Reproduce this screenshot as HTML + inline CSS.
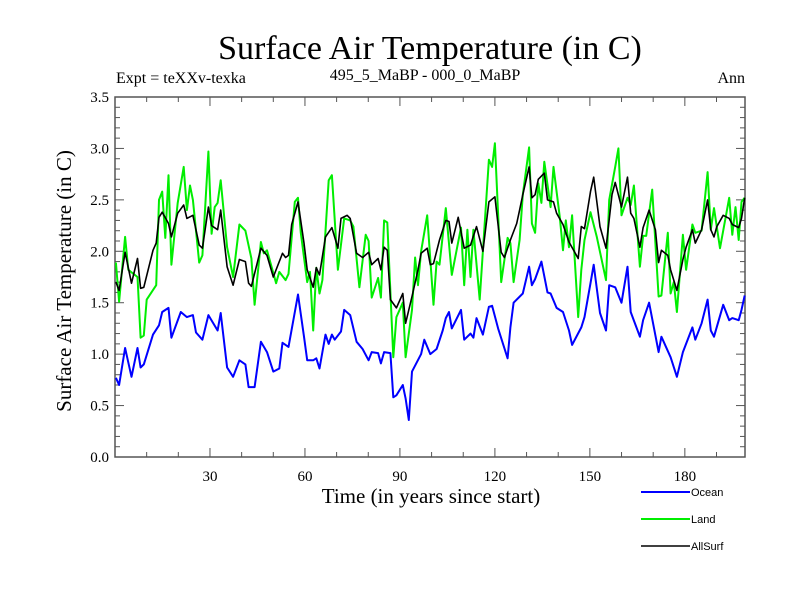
<!DOCTYPE html>
<html><head><meta charset="utf-8"><style>
html,body{margin:0;padding:0;background:#fff;}
svg{display:block;}
.serif{font-family:"Liberation Serif",serif;}
.sans{font-family:"Liberation Sans",sans-serif;}
</style></head><body>
<svg id="chart" width="800" height="600" viewBox="0 0 800 600" xmlns="http://www.w3.org/2000/svg">
<rect width="800" height="600" fill="#fff"/>
<text class="serif" x="430" y="59" font-size="34" text-anchor="middle">Surface Air Temperature (in C)</text>
<text class="serif" x="116" y="83" font-size="16">Expt = teXXv-texka</text>
<text class="serif" x="425" y="80" font-size="16" text-anchor="middle">495_5_MaBP - 000_0_MaBP</text>
<text class="serif" x="745" y="83" font-size="16" text-anchor="end">Ann</text>
<text class="serif" transform="translate(71,281) rotate(-90)" font-size="21" text-anchor="middle">Surface Air Temperature (in C)</text>
<text class="serif" x="431" y="503" font-size="21" text-anchor="middle">Time (in years since start)</text>
<g id="axes"></g>
<g id="series"></g>
<g id="legend"></g>
</svg>
<script>
const yTicks=[0,0.5,1,1.5,2,2.5,3,3.5];
const yTickLabels=["0.0","0.5","1.0","1.5","2.0","2.5","3.0","3.5"];
const xTicks=[30,60,90,120,150,180];
const xTickLabels=["30","60","90","120","150","180"];
const seriesNames=["Ocean","Land","AllSurf"];
const oceanYears=[0.3,1.3,3.2,5.2,7.1,8.1,9.1,12.0,13.9,14.9,16.9,17.8,20.8,22.7,24.6,25.6,27.6,29.5,32.4,33.4,35.4,37.3,39.3,41.2,42.2,44.1,46.1,48.0,50.0,51.9,52.9,54.8,57.8,59.7,60.7,62.6,63.6,64.6,66.5,67.5,68.5,69.4,71.4,72.4,74.3,76.3,78.2,80.1,81.1,83.1,84.0,85.0,87.0,87.9,88.9,90.9,91.8,92.8,93.8,96.7,97.7,99.6,101.6,103.5,104.5,105.5,106.4,109.3,110.3,112.3,113.2,114.2,116.2,118.1,119.1,121.0,124.0,124.9,125.9,128.8,130.8,131.7,132.7,134.7,136.6,137.6,139.5,141.5,143.4,144.4,147.3,148.3,150.2,151.2,153.2,155.1,156.1,158.0,160.0,161.9,162.9,165.8,166.8,168.7,171.7,172.6,175.5,177.5,179.4,182.4,183.3,185.3,187.2,188.2,189.2,192.1,194.0,195.0,197.0,197.9,198.9];
const oceanValues=[0.77,0.70,1.06,0.78,1.06,0.87,0.90,1.19,1.28,1.41,1.45,1.16,1.41,1.36,1.38,1.21,1.14,1.38,1.23,1.40,0.87,0.78,0.94,0.90,0.68,0.68,1.12,1.02,0.83,0.86,1.11,1.07,1.58,1.17,0.94,0.94,0.96,0.86,1.19,1.10,1.19,1.14,1.22,1.43,1.38,1.12,1.05,0.94,1.02,1.01,0.91,1.02,1.01,0.58,0.60,0.70,0.57,0.36,0.83,1.00,1.14,1.00,1.05,1.23,1.35,1.41,1.25,1.43,1.14,1.20,1.16,1.35,1.19,1.46,1.47,1.25,0.96,1.26,1.50,1.59,1.85,1.67,1.73,1.90,1.60,1.59,1.45,1.41,1.23,1.09,1.26,1.36,1.69,1.87,1.40,1.23,1.67,1.65,1.50,1.85,1.41,1.17,1.33,1.50,1.02,1.17,0.97,0.78,1.02,1.26,1.14,1.30,1.53,1.23,1.17,1.48,1.33,1.35,1.33,1.43,1.57];
const landYears=[0.3,1.3,3.2,4.2,7.1,8.1,9.1,10.0,13.0,13.9,14.9,15.9,16.9,17.8,19.8,21.7,22.7,23.7,24.6,26.6,27.6,29.5,30.5,31.5,32.4,33.4,35.4,37.3,39.3,41.2,43.1,44.1,46.1,47.0,48.0,50.9,51.9,53.9,54.8,56.8,57.8,58.7,60.7,61.6,62.6,63.6,64.6,65.5,67.5,68.5,70.4,72.4,74.3,75.3,77.2,79.2,80.1,81.1,83.1,84.0,85.0,86.0,87.9,88.9,90.9,91.8,93.8,94.8,95.7,96.7,98.6,100.6,101.6,102.5,104.5,106.4,109.3,110.3,111.3,112.3,113.2,115.2,118.1,119.1,120.0,122.0,124.0,124.9,125.9,127.8,128.8,130.8,131.7,132.7,133.7,134.7,135.6,137.6,138.5,140.5,141.5,142.4,143.4,144.4,146.3,147.3,148.3,150.2,152.2,155.1,156.1,158.0,159.0,160.0,161.9,162.9,163.9,165.8,166.8,167.8,169.7,171.7,172.6,174.6,175.5,176.5,177.5,179.4,180.4,182.4,183.3,185.3,187.2,188.2,189.2,191.1,192.1,194.0,195.0,196.0,197.0,197.9,198.9];
const landValues=[1.89,1.51,2.14,1.82,1.75,1.16,1.18,1.53,1.67,2.50,2.58,2.13,2.74,1.87,2.47,2.82,2.40,2.64,2.50,1.89,1.96,2.97,2.17,2.43,2.47,2.69,2.04,1.75,2.26,2.20,1.93,1.48,2.09,1.98,2.01,1.69,1.80,1.72,1.78,2.48,2.52,2.18,1.70,1.80,1.23,1.84,1.59,1.72,2.69,2.74,1.82,2.32,2.30,2.24,1.65,2.16,2.10,1.55,1.74,1.55,2.30,2.28,0.97,1.36,1.50,0.97,1.43,1.94,1.67,2.00,2.35,1.48,1.90,1.87,2.42,1.77,2.23,1.67,2.21,1.75,2.21,1.53,2.89,2.82,3.05,1.70,2.13,2.08,1.70,2.11,2.55,3.01,2.27,2.18,2.66,2.47,2.87,2.43,2.82,2.33,2.01,2.30,2.04,2.35,1.36,1.82,2.11,2.38,2.14,1.72,2.50,2.82,3.00,2.35,2.52,2.45,2.64,1.85,2.15,2.15,2.60,1.56,1.57,2.18,1.59,1.70,1.41,2.16,1.82,2.26,2.18,2.20,2.77,2.21,2.42,2.03,2.20,2.52,2.16,2.43,2.11,2.48,2.52];
const allYears=[0.3,1.3,3.2,5.2,7.1,8.1,9.1,12.0,13.0,13.9,14.9,16.9,17.8,19.8,21.7,22.7,24.6,26.6,27.6,29.5,30.5,32.4,33.4,35.4,37.3,39.3,41.2,42.2,43.1,46.1,48.0,50.0,52.9,53.9,54.8,55.8,57.8,59.7,60.7,62.6,63.6,64.6,66.5,68.5,70.4,71.4,73.3,74.3,76.3,78.2,80.1,81.1,83.1,84.0,85.0,86.0,87.0,88.9,90.9,91.8,93.8,95.7,96.7,98.6,99.6,100.6,102.5,104.5,105.5,106.4,108.4,110.3,112.3,114.2,116.2,118.1,120.0,122.0,123.0,124.9,126.9,127.8,128.8,130.8,131.7,132.7,133.7,135.6,136.6,138.5,139.5,141.5,143.4,146.3,147.3,148.3,150.2,151.2,153.2,155.1,157.0,158.0,160.0,161.9,162.9,163.9,165.8,166.8,168.7,170.7,171.7,172.6,174.6,175.5,177.5,179.4,180.4,182.4,183.3,185.3,187.2,188.2,189.2,190.1,192.1,194.0,195.0,197.0,197.9,198.9];
const allValues=[1.70,1.62,1.99,1.69,1.93,1.64,1.65,2.01,2.08,2.33,2.38,2.27,2.14,2.37,2.45,2.32,2.35,2.06,2.03,2.43,2.25,2.21,2.40,1.85,1.67,1.92,1.90,1.69,1.66,2.03,1.96,1.75,1.98,1.94,1.96,2.26,2.48,2.08,1.82,1.65,1.84,1.77,2.14,2.23,2.03,2.32,2.35,2.32,1.98,1.94,1.99,1.87,1.93,1.82,2.04,2.01,1.53,1.45,1.59,1.30,1.56,1.82,1.98,2.03,1.87,1.88,2.11,2.30,2.29,2.08,2.33,2.03,2.06,2.24,2.00,2.48,2.53,1.99,1.94,2.11,2.27,2.40,2.55,2.82,2.52,2.55,2.70,2.76,2.50,2.48,2.37,2.26,2.09,1.93,2.24,2.22,2.58,2.72,2.24,2.03,2.55,2.67,2.43,2.72,2.37,2.32,2.04,2.23,2.40,2.21,1.89,2.01,1.96,1.82,1.62,1.92,2.04,2.21,2.08,2.21,2.50,2.21,2.14,2.24,2.35,2.32,2.26,2.23,2.32,2.52];

const NS="http://www.w3.org/2000/svg";
const L=115,R=745,T=97,B=457,XMAX=199,YMAX=3.5;
function xs(v){return L+(v/XMAX)*(R-L);}
function ys(v){return B-(v/YMAX)*(B-T);}
function mk(tag,attrs,parent){const e=document.createElementNS(NS,tag);for(const k in attrs)e.setAttribute(k,attrs[k]);parent.appendChild(e);return e;}
const axes=document.getElementById('axes');
const frame=mk('rect',{x:L,y:T,width:R-L,height:B-T,fill:'none',stroke:'#555','stroke-width':1.5},axes);


for(let i=0;i<=35;i++){
  const v=i/10;const y=ys(v);const major=(i%5===0);const len=major?9:5;
  const t1=mk('line',{x1:L,x2:L+len,y1:y,y2:y,stroke:'#555','stroke-width':1},axes);
  
  
  const t2=mk('line',{x1:R,x2:R-len,y1:y,y2:y,stroke:'#555','stroke-width':1},axes);
  
  
}
yTicks.forEach((v,i)=>{
  const t=mk('text',{x:L-6,y:ys(v)+5,'font-size':15,'text-anchor':'end','class':'serif'},axes);
  t.textContent=yTickLabels[i];
  
  
});
for(let yr=10;yr<XMAX;yr+=10){
  const x=xs(yr);const major=(yr%30===0);const len=major?9:5;
  const t1=mk('line',{x1:x,x2:x,y1:B,y2:B-len,stroke:'#555','stroke-width':1},axes);
  
  
  const t2=mk('line',{x1:x,x2:x,y1:T,y2:T+len,stroke:'#555','stroke-width':1},axes);
  
  
}
xTicks.forEach((v,i)=>{
  const t=mk('text',{x:xs(v),y:B+24,'font-size':15,'text-anchor':'middle','class':'serif'},axes);
  t.textContent=xTickLabels[i];
  
  
});
const sg=document.getElementById('series');
function line(years,vals,color,w,name){
  const d=years.map((yr,i)=>(i?'L':'M')+xs(yr).toFixed(1)+','+ys(vals[i]).toFixed(1)).join('');
  const p=mk('path',{d:d,fill:'none',stroke:color,'stroke-width':w,'stroke-linejoin':'round'},sg);
  
  
}
line(oceanYears,oceanValues,'#0000ff',2,'ocean-line');
line(landYears,landValues,'#00ee00',2,'land-line');
line(allYears,allValues,'#000000',1.6,'allsurf-line');
const lg=document.getElementById('legend');
const lcol=['#0000ff','#00ee00','#000000'];
const lw=[2,2,1.5];
seriesNames.forEach((n,i)=>{
  const y=492+i*27;
  const ln=mk('line',{x1:641,x2:690,y1:y,y2:y,stroke:lcol[i],'stroke-width':lw[i]},lg);
  
  
  const t=mk('text',{x:691,y:y+4,'font-size':11,'class':'sans'},lg);
  t.textContent=n;
  
  
});
</script>
</body></html>
